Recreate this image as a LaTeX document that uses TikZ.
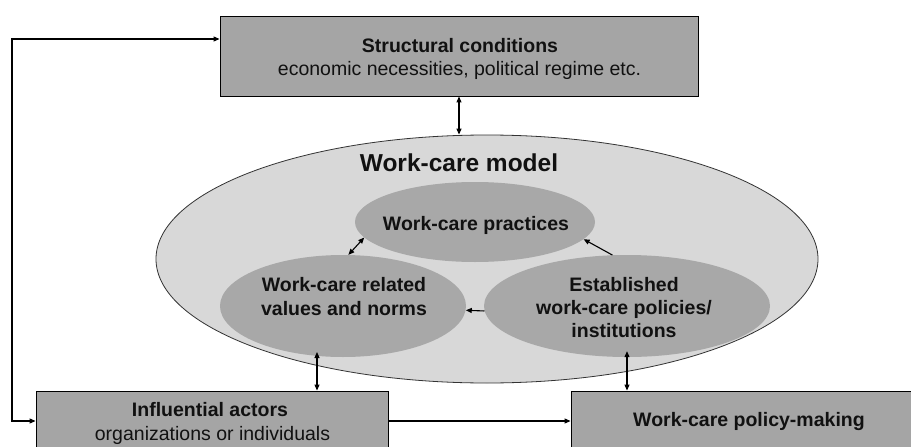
\documentclass[tikz,border=0pt]{standalone}
\usepackage{fontspec}
\setmainfont{Liberation Sans}
\usetikzlibrary{shapes.geometric,arrows.meta,calc}
\definecolor{boxgray}{HTML}{A5A5A5}
\definecolor{innergray}{HTML}{A8A8A8}
\definecolor{outergray}{HTML}{D8D8D8}
\definecolor{ink}{HTML}{111111}
\tikzset{
  boxnode/.style={rectangle, draw=black, line width=0.9pt, fill=boxgray, inner sep=0pt},
  outerell/.style={ellipse, draw=black!80, line width=0.8pt, fill=outergray, inner sep=0pt},
  innerell/.style={ellipse, fill=innergray, inner sep=0pt},
  lblb/.style={anchor=base, inner sep=0pt, text=ink, font=\fontsize{19.5}{23}\selectfont\bfseries},
  lblr/.style={anchor=base, inner sep=0pt, text=ink, font=\fontsize{19.5}{23}\selectfont},
  titlelbl/.style={anchor=base, inner sep=0pt, text=ink, font=\fontsize{24.5}{28}\selectfont\bfseries},
  conn/.style={line width=1.1pt, draw=black},
  tip/.tip={Triangle[length=6pt,width=5pt]},
  one/.style={conn,-tip},
  both/.style={conn,tip-tip}
}
\begin{document}
\begin{tikzpicture}[x=1pt,y=1pt]
\useasboundingbox (0,0) rectangle (911,-447);
\clip (0,0) rectangle (911,-447);
\fill[white] (0,0) rectangle (911,-447);

% work-care model ellipse and inner ellipses
\node[outerell, minimum width=662, minimum height=248] (big) at (487,-259) {};
\node[innerell, minimum width=240, minimum height=80] (prac) at (475,-222) {};
\node[innerell, minimum width=246, minimum height=102] (vals) at (343,-306) {};
\node[innerell, minimum width=286, minimum height=102] (est) at (627,-306) {};

% boxes
\node[boxnode, minimum width=478, minimum height=80] (tb) at (459,-56) {};
\node[boxnode, minimum width=352, minimum height=68] (ia) at (212,-425) {};
\node[boxnode, minimum width=356, minimum height=68] (pm) at (749,-425) {};

% texts
\node[lblb] (t1) at (460,-52.3) {Structural conditions};
\node[lblr] (t2) at (459.5,-75) {economic necessities, political regime etc.};
\node[titlelbl] (t3) at (459,-171) {Work-care model};
\node[lblb] (t4) at (476,-230.5) {Work-care practices};
\node[lblb] (t5) at (344,-291.7) {Work-care related};
\node[lblb] (t6) at (344,-315) {values and norms};
\node[lblb] (t7) at (624,-291) {Established};
\node[lblb] (t8) at (624,-314.3) {work-care policies/};
\node[lblb] (t9) at (624,-337.3) {institutions};
\node[lblb] (t10) at (210,-416.7) {Influential actors};
\node[lblr] (t11) at (212.5,-440) {organizations or individuals};
\node[lblb] (t12) at (749,-426) {Work-care policy-making};

% connectors
\coordinate (loopTop) at (12,-39);
\coordinate (loopBot) at (12,-421);
\draw[both] (tb.west |- loopTop) -- (loopTop) -- (loopBot) -- (ia.west |- loopBot);
\draw[one] (ia.east |- loopBot) -- (pm.west |- loopBot);
\draw[both] (tb.south) -- (tb.south |- big.north);
\draw[both] (vals.84.6) -- (prac.188.6);
\draw[one] (est.106) -- (prac.-9);
\draw[one] (est.182) -- (vals.-2);
\coordinate (va) at (317,-352);
\draw[both] (va) -- (va |- ia.north);
\draw[both] ([yshift=6pt]est.south) -- (est.south |- pm.north);
\end{tikzpicture}
\end{document}
